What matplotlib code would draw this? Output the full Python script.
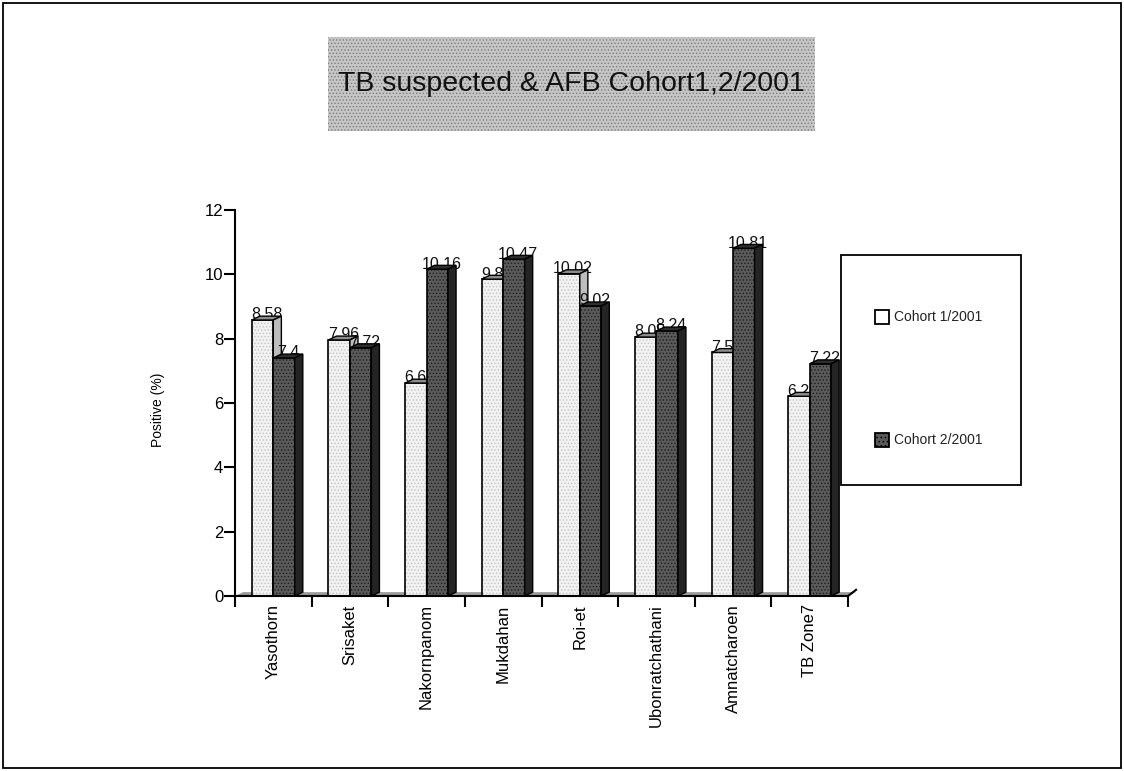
import matplotlib
matplotlib.use("Agg")
import matplotlib.pyplot as plt
from matplotlib.patches import Rectangle, Polygon
import numpy as np

plt.rcParams['font.family'] = ['Liberation Sans', 'DejaVu Sans']
plt.rcParams['hatch.linewidth'] = 0.6

categories = ["Yasothorn", "Srisaket", "Nakornpanom", "Mukdahan", "Roi-et",
              "Ubonratchathani", "Amnatcharoen", "TB Zone7"]
cohort1 = [8.58, 7.96, 6.62, 9.85, 10.02, 8.05, 7.57, 6.21]
cohort2 = [7.4, 7.72, 10.16, 10.47, 9.02, 8.24, 10.81, 7.22]
series_names = ["Cohort 1/2001", "Cohort 2/2001"]
yticks = [0, 2, 4, 6, 8, 10, 12]
title = "TB suspected & AFB Cohort1,2/2001"
ylabel = "Positive (%)"

W, H = 1124, 771
fig = plt.figure(figsize=(W / 100, H / 100), dpi=100)

def fx(px):
    return px / W

def fy(py):
    return 1 - py / H

# outer frame
fig.patches.append(Rectangle((fx(3), fy(768)), fx(1118), 765 / H, transform=fig.transFigure,
                             fill=False, edgecolor='black', lw=1.3))

# title box
fig.patches.append(Rectangle((fx(328), fy(131)), fx(487), 94 / H, transform=fig.transFigure,
                             facecolor='#c6c6c6', edgecolor='#7c7c7c', hatch='.....', lw=0))
fig.text(fx(571), fy(84), title, ha='center', va='center', fontsize=20.5, color='#111111')

ax = fig.add_axes([fx(235), fy(596), fx(848 - 235), (596 - 210) / H])
ax.set_xlim(-0.5, len(categories) - 0.5)
ax.set_ylim(0, 12)
ax.patch.set_alpha(0)

x = np.arange(len(categories))
w = 0.28
dx, dy = 0.105, 0.12

# floor strip
ax.add_patch(Polygon([(-0.5, 0), (len(categories) - 0.5, 0),
                      (len(categories) - 0.5 + dx, dy), (-0.5 + dx, dy)],
                     closed=True, facecolor='#9a9a9a', edgecolor='none', zorder=1, clip_on=False))
ax.plot([len(categories) - 0.5, len(categories) - 0.5 + dx], [0, dy * 1.6], color='black',
        lw=1.5, clip_on=False, zorder=6)

styles = [
    dict(front='#f2f2f2', hatchc='#c4c4c4', top='#8c8c8c', side='#bdbdbd'),
    dict(front='#5a5a5a', hatchc='#1e1e1e', top='#2e2e2e', side='#242424'),
]

for k, (vals, off) in enumerate([(cohort1, -w / 2), (cohort2, w / 2)]):
    st = styles[k]
    z = 3 + 2 * k
    xs = x + off
    ax.bar(xs, vals, width=w, color=st['front'], edgecolor=st['hatchc'], hatch='.....',
           lw=0, zorder=z)
    ax.bar(xs, vals, width=w, fill=False, edgecolor='black', lw=1.2, zorder=z + 0.5)
    for xi, v in zip(xs, vals):
        x0 = xi - w / 2
        x1 = xi + w / 2
        ax.add_patch(Polygon([(x0, v), (x1, v), (x1 + dx, v + dy), (x0 + dx, v + dy)],
                             closed=True, facecolor=st['top'], edgecolor='black', lw=1.0,
                             zorder=z + 0.6, clip_on=False))
        ax.add_patch(Polygon([(x1, 0), (x1, v), (x1 + dx, v + dy), (x1 + dx, dy)],
                             closed=True, facecolor=st['side'], edgecolor='black', lw=1.0,
                             zorder=z + 0.6, clip_on=False))
        ax.text(xi + dx / 2, v + 0.02, f"{v:g}", ha='center', va='baseline', fontsize=11.5,
                color='#111111', zorder=z - 0.5 if k == 0 else 4.9)

# axes styling
for s in ['top', 'right']:
    ax.spines[s].set_visible(False)
ax.spines['left'].set_linewidth(1.5)
ax.spines['bottom'].set_linewidth(1.5)
ax.spines['bottom'].set_zorder(8)
ax.set_yticks(yticks)
ax.set_yticklabels([str(t) for t in yticks], fontsize=12)
ax.tick_params(axis='y', length=8, width=1.5, pad=0.5)
ax.set_xticks(x)
ax.set_xticklabels(categories, rotation=90, fontsize=12)
ax.tick_params(axis='x', which='major', length=0, pad=6)
ax.set_xticks(np.arange(len(categories) + 1) - 0.5, minor=True)
ax.tick_params(axis='x', which='minor', length=8, width=1.5)

fig.text(fx(158), fy(410), ylabel, rotation=90, ha='center', va='center', fontsize=10)

# legend
fig.patches.append(Rectangle((fx(841), fy(485)), fx(180), 230 / H, transform=fig.transFigure,
                             fill=False, edgecolor='black', lw=1.3))
for i, (name, st) in enumerate(zip(series_names, styles)):
    cy = 317 + i * 123
    fig.patches.append(Rectangle((fx(875), fy(cy + 7)), fx(14), 14 / H, transform=fig.transFigure,
                                 facecolor=st['front'] if i else 'white', edgecolor='black',
                                 lw=1.3, hatch='....' if i else None))
    fig.text(fx(894), fy(cy), name, ha='left', va='center', fontsize=10, color='#222222')

fig.savefig("out.png", dpi=100)
